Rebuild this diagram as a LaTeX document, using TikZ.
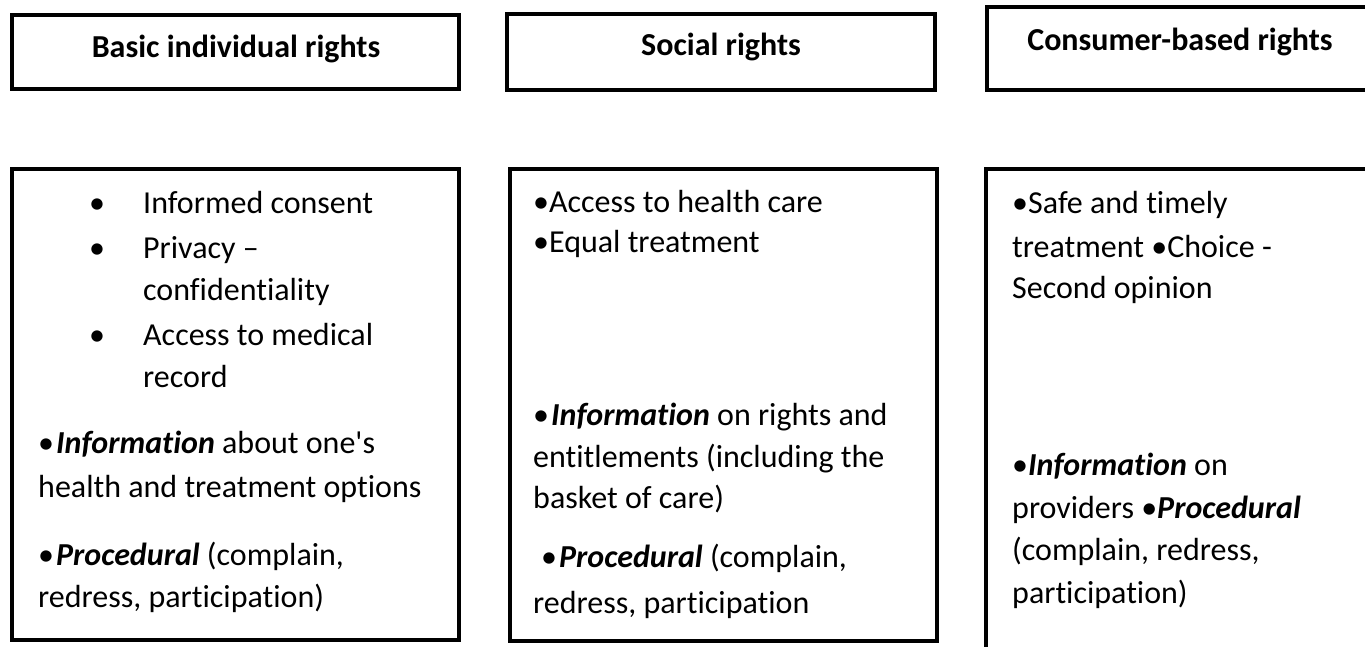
\documentclass[tikz,border=0pt]{standalone}
\usepackage{fontspec}
\setmainfont{Carlito}[Ligatures={NoCommon,NoRequired,NoContextual}]
\begin{document}
\begin{tikzpicture}[x=1pt,y=-1pt,
  box/.style={draw=black,line width=3.6pt},
  txt/.style={inner sep=0pt,anchor=base west,font=\fontsize{32}{38}\selectfont},
  head/.style={inner sep=0pt,anchor=base,font=\fontsize{32}{38}\selectfont\bfseries},
  dot/.style={inner sep=0pt,anchor=base,font=\fontsize{32}{38}\selectfont}]
\useasboundingbox (0,0) rectangle (1365,646);
\clip (0,0) rectangle (1365,646);
% header boxes
\draw[box] (12,15) rectangle (459,89);
\draw[box] (507,14) rectangle (935,90);
\draw[box] (987,7) rectangle (1385,90);
\node[head] (h1) at (236,57) {Basic individual rights};
\node[head] (h2) at (721,55) {Social rights};
\node[head] (h3) at (1180,50) {Consumer-based rights};
% body boxes
\draw[box] (12,169) rectangle (459,640);
\draw[box] (510,169) rectangle (937,641);
\draw[box] (986,169) rectangle (1385,670);
% column 1
\node[dot] (d1) at (97,213) {•};
\node[txt] (a1) at (143,213) {Informed consent};
\node[dot] (d2) at (97,258) {•};
\node[txt] (a2) at (143,258) {Privacy –};
\node[txt] (a3) at (143,300) {confidentiality};
\node[dot] (d3) at (97,345) {•};
\node[txt] (a4) at (143,345) {Access to medical};
\node[txt] (a5) at (143,387) {record};
\node[txt] (a6) at (38,453) {•\kern2pt\textbf{\textit{Information}} about one\textquotesingle s};
\node[txt] (a7) at (38,497) {health and treatment options};
\node[txt] (a8) at (38,565) {•\kern2pt\textbf{\textit{Procedural}} (complain,};
\node[txt] (a9) at (38,607) {redress, participation)};
% column 2
\node[txt] (b1) at (533,212) {•Access to health care};
\node[txt] (b2) at (533,252) {•Equal treatment};
\node[txt] (b3) at (533,425) {•\kern2pt\textbf{\textit{Information}} on rights and};
\node[txt] (b4) at (533,467) {entitlements (including the};
\node[txt] (b5) at (533,508) {basket of care)};
\node[txt] (b6) at (541,567) {•\kern2pt\textbf{\textit{Procedural}} (complain,};
\node[txt] (b7) at (533,613) {redress, participation};
% column 3
\node[txt] (c1) at (1012,213) {•Safe and timely};
\node[txt] (c2) at (1012,257) {treatment •Choice -};
\node[txt] (c3) at (1012,298) {Second opinion};
\node[txt] (c4) at (1012,475) {•\textbf{\textit{Information}} on};
\node[txt] (c5) at (1012,518) {providers •\textbf{\textit{Procedural}}};
\node[txt] (c6) at (1012,560) {(complain, redress,};
\node[txt] (c7) at (1012,603) {participation)};
\end{tikzpicture}
\end{document}
